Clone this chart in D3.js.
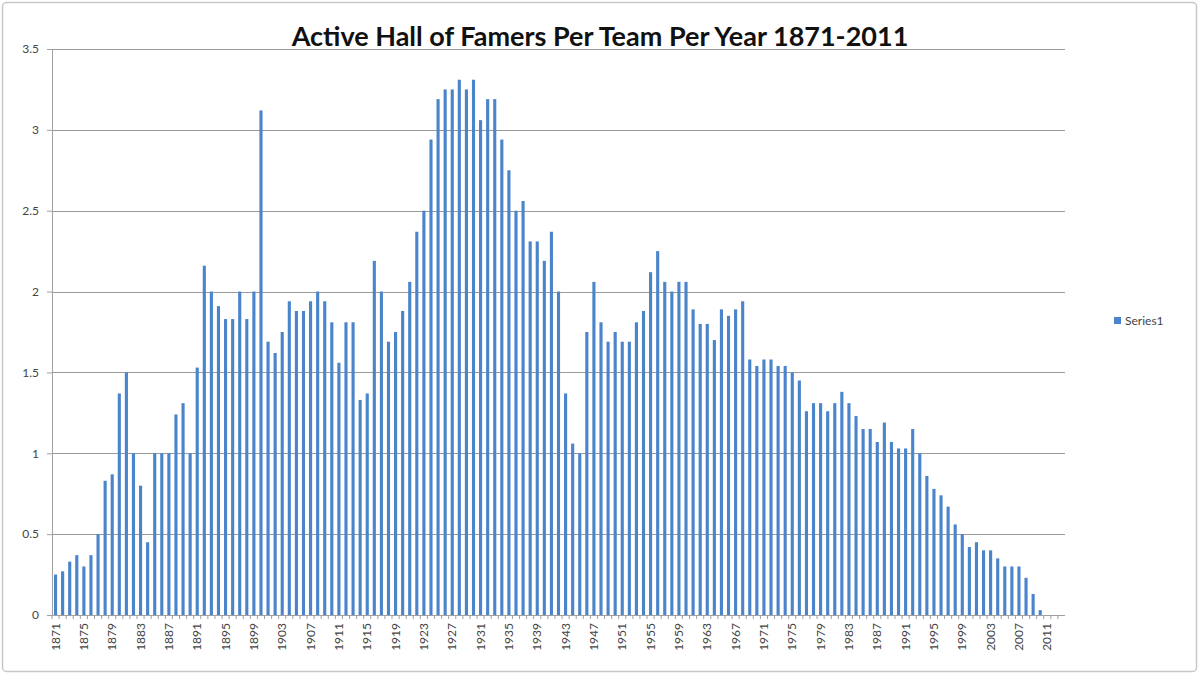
<!DOCTYPE html>
<html>
<head>
<meta charset="utf-8">
<script src="https://cdn.jsdelivr.net/npm/d3@7.9.0/dist/d3.min.js"></script>
<style>
  html, body { margin: 0; padding: 0; background: #fff; }
  svg { display: block; }
</style>
</head>
<body>
<svg id="chart" width="1200" height="675"></svg>
<script>
const title = 'Active Hall of Famers Per Team Per Year 1871-2011';
const seriesName = 'Series1';

// one slot per year, axis runs a little past 2011
const years = d3.range(1871, 2014);

const values = [
  0.25, 0.27, 0.33, 0.37, 0.30, 0.37, 0.50, 0.83, 0.87, 1.37, // 1871-1880
  1.50, 1.00, 0.80, 0.45, 1.00, 1.00, 1.00, 1.24, 1.31, 1.00, // 1881-1890
  1.53, 2.16, 2.00, 1.91, 1.83, 1.83, 2.00, 1.83, 2.00, 3.12, // 1891-1900
  1.69, 1.62, 1.75, 1.94, 1.88, 1.88, 1.94, 2.00, 1.94, 1.81, // 1901-1910
  1.56, 1.81, 1.81, 1.33, 1.37, 2.19, 2.00, 1.69, 1.75, 1.88, // 1911-1920
  2.06, 2.37, 2.50, 2.94, 3.19, 3.25, 3.25, 3.31, 3.25, 3.31, // 1921-1930
  3.06, 3.19, 3.19, 2.94, 2.75, 2.50, 2.56, 2.31, 2.31, 2.19, // 1931-1940
  2.37, 2.00, 1.37, 1.06, 1.00, 1.75, 2.06, 1.81, 1.69, 1.75, // 1941-1950
  1.69, 1.69, 1.81, 1.88, 2.12, 2.25, 2.06, 2.00, 2.06, 2.06, // 1951-1960
  1.89, 1.80, 1.80, 1.70, 1.89, 1.85, 1.89, 1.94, 1.58, 1.54, // 1961-1970
  1.58, 1.58, 1.54, 1.54, 1.50, 1.45, 1.26, 1.31, 1.31, 1.26, // 1971-1980
  1.31, 1.38, 1.31, 1.23, 1.15, 1.15, 1.07, 1.19, 1.07, 1.03, // 1981-1990
  1.03, 1.15, 1.00, 0.86, 0.78, 0.74, 0.67, 0.56, 0.50, 0.42, // 1991-2000
  0.45, 0.40, 0.40, 0.35, 0.30, 0.30, 0.30, 0.23, 0.13, 0.03, // 2001-2010
  0, 0, 0                                                      // 2011-2013
];

const yTicks = [0, 0.5, 1, 1.5, 2, 2.5, 3, 3.5];
const xTickYears = years.filter(y => (y - 1871) % 4 === 0);

const barColor = '#4a84cb';
const margin = { top: 49, right: 135, bottom: 60, left: 52 };
const width = 1200, height = 675;

const svg = d3.select('#chart');

// chart area border
svg.append('rect')
  .attr('x', 2.5).attr('y', 2.5)
  .attr('width', width - 6).attr('height', height - 6)
  .attr('rx', 4)
  .attr('fill', '#fff')
  .attr('stroke', '#c8c8c8')
  .attr('stroke-width', 1.5);

const x = d3.scaleBand()
  .domain(years)
  .range([margin.left, width - margin.right])
  .paddingInner(0.56)
  .paddingOuter(0.28);

const y = d3.scaleLinear()
  .domain([0, 3.5])
  .range([height - margin.bottom, margin.top]);

// gridlines
svg.append('g')
  .selectAll('line')
  .data(yTicks.slice(1))
  .join('line')
  .attr('x1', margin.left)
  .attr('x2', width - margin.right)
  .attr('y1', d => Math.round(y(d)) + 0.5)
  .attr('y2', d => Math.round(y(d)) + 0.5)
  .attr('stroke', '#9a9a9a')
  .attr('stroke-width', 1.2);

// bars
svg.append('g')
  .selectAll('rect')
  .data(values.map((v, i) => ({ year: years[i], value: v })))
  .join('rect')
  .attr('x', d => x(d.year))
  .attr('width', x.bandwidth())
  .attr('y', d => y(d.value))
  .attr('height', d => y(0) - y(d.value))
  .attr('fill', barColor);

// y axis
const yAxis = svg.append('g')
  .attr('transform', `translate(${margin.left},0)`)
  .call(d3.axisLeft(y).tickValues(yTicks).tickFormat(d => d).tickSize(5).tickPadding(8));
yAxis.select('.domain').attr('stroke', '#a0a0a0');
yAxis.selectAll('.tick line').attr('stroke', '#a0a0a0');
yAxis.selectAll('text')
  .attr('font-family', 'Lato, "Open Sans", sans-serif')
  .attr('font-size', 12)
  .attr('fill', '#444');

// x axis: tick marks between categories, labels every 4 years
const xAxisG = svg.append('g')
  .attr('transform', `translate(0,${y(0)})`);
xAxisG.append('line')
  .attr('x1', margin.left).attr('x2', width - margin.right)
  .attr('y1', 0.5).attr('y2', 0.5)
  .attr('stroke', '#a0a0a0');
xAxisG.selectAll('line.sep')
  .data(years)
  .join('line')
  .attr('class', 'sep')
  .attr('x1', d => x(d) - x.step() * x.paddingInner() / 2)
  .attr('x2', d => x(d) - x.step() * x.paddingInner() / 2)
  .attr('y1', 0).attr('y2', 4)
  .attr('stroke', '#a0a0a0');
xAxisG.selectAll('text')
  .data(xTickYears)
  .join('text')
  .attr('transform', d => `translate(${x(d) + x.bandwidth() / 2 + 4},8) rotate(-90)`)
  .attr('text-anchor', 'end')
  .attr('font-family', 'Lato, "Open Sans", sans-serif')
  .attr('font-size', 12)
  .attr('fill', '#444')
  .text(d => d);

// title
svg.append('text')
  .attr('x', 600)
  .attr('y', 46)
  .attr('text-anchor', 'middle')
  .attr('font-family', 'Lato, "Open Sans", sans-serif')
  .attr('font-weight', 'bold')
  .attr('font-size', 27)
  .attr('fill', '#111')
  .text(title);

// legend
const legend = svg.append('g').attr('transform', 'translate(1114,317)');
legend.append('rect')
  .attr('width', 7).attr('height', 7)
  .attr('fill', barColor);
legend.append('text')
  .attr('x', 11).attr('y', 7.5)
  .attr('font-family', 'Lato, "Open Sans", sans-serif')
  .attr('font-size', 12)
  .attr('fill', '#444')
  .text(seriesName);
</script>
</body>
</html>
